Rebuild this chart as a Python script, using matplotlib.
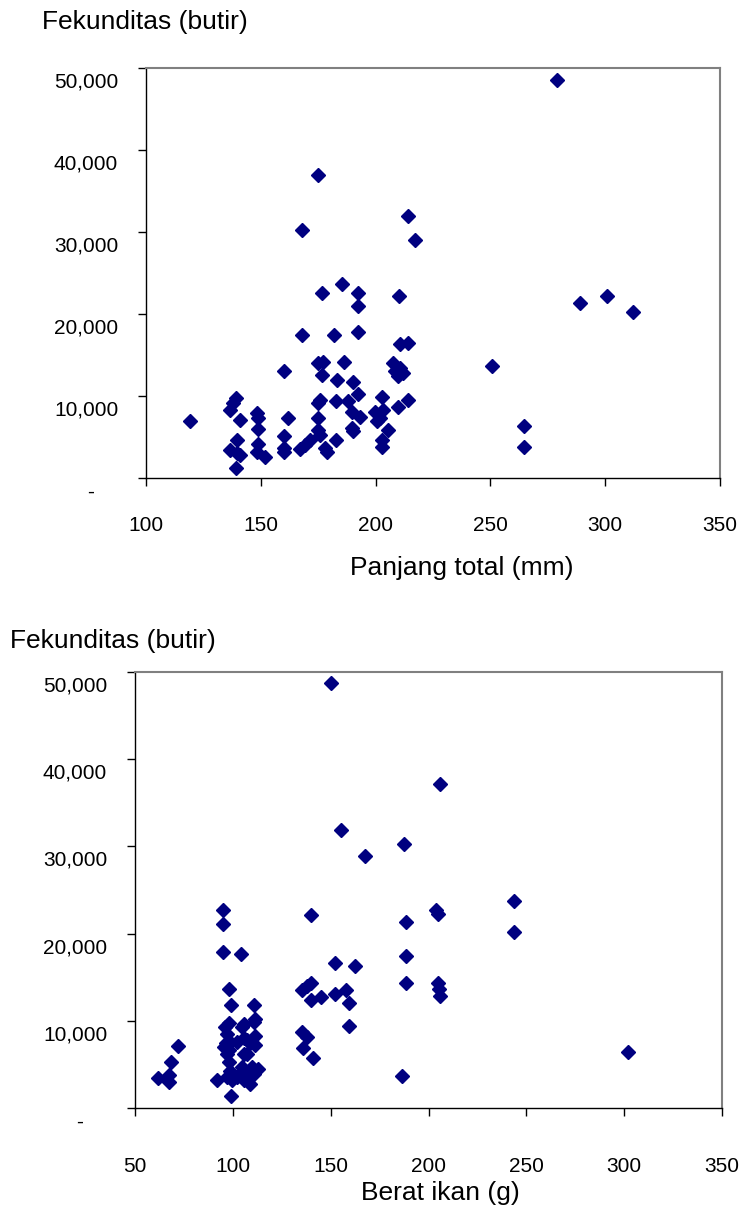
# Fekunditas vs panjang total / berat ikan - two scatter panels
import matplotlib
matplotlib.use('Agg')
import matplotlib.pyplot as plt
import matplotlib.transforms as mtransforms
from matplotlib.ticker import FuncFormatter

# ----- DATA ------------------------------------------------------------------------
# panel 1: panjang total (mm) vs fekunditas (butir)
panjang = [279, 175, 168, 214, 217, 185.5, 176.8, 192.5, 192.5, 210,
           289, 301, 312, 168, 182, 192.5, 210.6, 214.2, 160.2, 175,
           177, 176.5, 186.4, 183, 190, 192.5, 207.7, 210.6, 208.4, 212,
           209.9, 250.8, 139.2, 138, 136.6, 141, 119.2, 148.5, 148.9, 148.9,
           139.5, 148.9, 148.2, 151.8, 136.6, 139.5, 140.9, 139.2, 160.2, 162,
           160.2, 160.2, 175.8, 175, 182.8, 188.1, 202.9, 175, 189.6, 193.2,
           199.7, 203.4, 201.9, 200.5, 209.9, 214.2, 175, 175.8, 189.6, 190,
           205.5, 182.8, 171.4, 169.2, 167.1, 178, 178.7, 202.6, 202.9, 264.6,
           264.6]
fek_panjang = [48500, 37000, 30200, 32000, 29000, 23600, 22600, 22600, 21000, 22200,
               21400, 22200, 20200, 17500, 17500, 17800, 16300, 16500, 13100, 14000,
               14200, 12600, 14100, 11900, 11700, 10200, 14000, 13400, 13000, 12800,
               12400, 13600, 9700, 9100, 8300, 7100, 7000, 7900, 7300, 6000,
               4600, 4200, 3200, 2600, 3400, 3000, 2800, 1200, 5100, 7300,
               3700, 3200, 9500, 9100, 9400, 9400, 9900, 7300, 8100, 7500,
               8100, 8300, 7300, 6900, 8700, 9500, 5800, 5200, 6100, 5700,
               5800, 4600, 4600, 4000, 3500, 3600, 3200, 4600, 3800, 6300,
               3800]

# panel 2: berat ikan (g) vs fekunditas (butir)
berat = [150, 155.5, 167.6, 187.3, 205.9, 203.8, 204.7, 243.7, 243.7, 188.5,
         188.5, 188.5, 204.7, 205.5, 205.9, 302.2, 186.5, 95, 95, 95,
         104.2, 140.1, 152.2, 162.5, 135.5, 138.1, 140.1, 139.7, 145.2, 152.2,
         157.7, 159.6, 159.6, 135.5, 138.1, 135.8, 141.1, 62, 67.4, 67.4,
         68.5, 72.2, 91.9, 99.2, 98.2, 99.2, 110.7, 111.5, 105.5, 97.9,
         97, 96.7, 97, 97.9, 98.7, 99.6, 102.2, 98.7, 102.2, 104.7,
         105.5, 107.3, 107.3, 109, 110.7, 111.5, 111.5, 109.8, 110.7, 109,
         112.9, 104.7, 105.5, 107.3, 97, 95.3, 96.2, 97.9, 105.5]
fek_berat = [48700, 31900, 28900, 30300, 37200, 22750, 22300, 23700, 20200, 21300,
             17400, 14300, 14300, 13700, 12800, 6400, 3700, 22750, 21150, 17900,
             17700, 22100, 16600, 16300, 13500, 14000, 14300, 12400, 12700, 13100,
             13500, 12000, 9400, 8700, 8100, 6900, 5700, 3400, 3800, 3000,
             5300, 7100, 3200, 1400, 13600, 11800, 11800, 10200, 9600, 9700,
             8500, 7400, 6200, 5300, 4300, 3200, 3600, 7600, 7600, 9300,
             8000, 6200, 7800, 7400, 9900, 8300, 7200, 4700, 3900, 2800,
             4500, 4700, 3200, 3700, 3600, 7000, 9300, 6600, 6200]

y_ticks = [0, 10000, 20000, 30000, 40000, 50000]
x_ticks_panjang = [100, 150, 200, 250, 300, 350]
x_ticks_berat = [50, 100, 150, 200, 250, 300, 350]

# ----- PLOTTING -------------------------------------------------------------------
plt.rcParams['font.family'] = ['Liberation Sans', 'DejaVu Sans']

fig = plt.figure(figsize=(7.43, 12.12), dpi=100)
ax1 = fig.add_axes([146/743, 1-478/1212, (720-146)/743, (478-68)/1212])
ax2 = fig.add_axes([135/743, 1-1108/1212, (722-135)/743, (1108-672)/1212])

def ribuan(v, pos):
    if v == 0:
        return '-    '
    return f'{int(v):,}'

def style(ax, xticks, xmin, xpad):
    ax.set_xlim(xmin, 350)
    ax.set_ylim(0, 50000)
    ax.set_xticks(xticks)
    ax.set_yticks(y_ticks)
    ax.yaxis.set_major_formatter(FuncFormatter(ribuan))
    ax.tick_params(axis='both', direction='out', length=6, width=1, labelsize=15,
                   colors='black')
    ax.tick_params(axis='y', pad=14)
    ax.tick_params(axis='x', pad=xpad)
    for s in ['left', 'bottom']:
        ax.spines[s].set_color('black')
        ax.spines[s].set_linewidth(1.0)
    for s in ['top', 'right']:
        ax.spines[s].set_color('#808080')
        ax.spines[s].set_linewidth(1.5)
    # labels sit a little below their ticks, like the original
    shift = mtransforms.ScaledTranslation(0, -0.12, fig.dpi_scale_trans)
    for lab in ax.get_yticklabels():
        lab.set_transform(lab.get_transform() + shift)

ax1.plot(panjang, fek_panjang, 'D', color='#000080', ms=7.5, mec='#000080', clip_on=False)
ax2.plot(berat, fek_berat, 'D', color='#000080', ms=7.5, mec='#000080', clip_on=False)

style(ax1, x_ticks_panjang, 100, 21)
style(ax2, x_ticks_berat, 50, 29)

fig.text(42/743, 1-22/1212, 'Fekunditas (butir)', fontsize=19, va='center', ha='left')
fig.text(462/743, 1-568/1212, 'Panjang total (mm)', fontsize=19, va='center', ha='center')
fig.text(10/743, 1-641/1212, 'Fekunditas (butir)', fontsize=19, va='center', ha='left')
fig.text(440/743, 1-1193/1212, 'Berat ikan (g)', fontsize=19, va='center', ha='center')

fig.savefig('out.png', dpi=100)
